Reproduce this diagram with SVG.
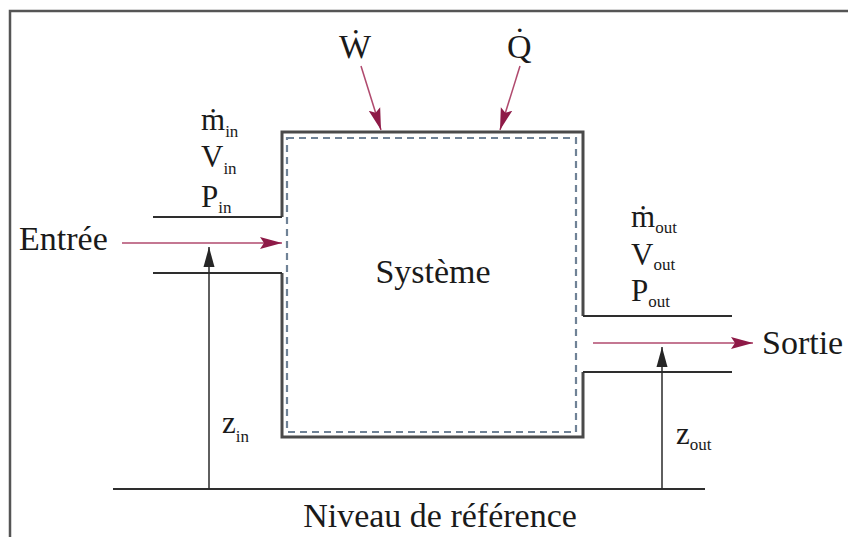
<svg xmlns="http://www.w3.org/2000/svg" width="848" height="537" viewBox="0 0 848 537">
<defs>
<style>
text{font-family:"Liberation Serif","Tinos","Noto Serif","FreeSerif","Nimbus Roman","Times","DejaVu Serif",serif;fill:#1a1a1a}
.big{font-size:34px}
.var{font-size:31px}
.sub{font-size:17px}
.wall{fill:none;stroke:#4a4a4a;stroke-width:3}
.pipe{fill:none;stroke:#2e2e2e;stroke-width:2}
.flow{stroke:#b04a6e;stroke-width:1.5;fill:none}
.z{stroke:#2a2a2a;stroke-width:1.5;fill:none}
</style>
<marker id="mflow" markerWidth="24" markerHeight="14" refX="22" refY="7" orient="auto" markerUnits="userSpaceOnUse">
<path d="M0,1 L22,7 L0,13 L4,7 Z" fill="#8e1a47"/>
</marker>
<marker id="mz" markerWidth="22" markerHeight="14" refX="20" refY="7" orient="auto" markerUnits="userSpaceOnUse">
<path d="M0,1.5 L20,7 L0,12.5 Z" fill="#262626"/>
</marker>
</defs>
<rect width="848" height="537" fill="#ffffff"/>
<g id="frame">
<path d="M10,537 V11 H848" fill="none" stroke="#555" stroke-width="2.5"/>
</g>
<g id="system">
<path class="wall" d="M282,217 V132 H583 V316"/>
<path class="wall" d="M282,273 V437 H583 V372"/>
<rect x="287" y="138" width="289" height="294" fill="none" stroke="#6f8296" stroke-width="2.2" stroke-dasharray="7,5"/>
<text class="big" x="433" y="283" text-anchor="middle">Système</text>
</g>
<g id="inlet">
<path class="pipe" d="M153,217 H282"/>
<path class="pipe" d="M153,273 H282"/>
<text class="big" x="19" y="250">Entrée</text>
<text class="var" x="201" y="130">ṁ<tspan class="sub" dy="7">in</tspan></text>
<text class="var" x="201" y="167">V<tspan class="sub" dy="7">in</tspan></text>
<text class="var" x="201" y="207">P<tspan class="sub" dy="6">in</tspan></text>
</g>
<g id="outlet">
<path class="pipe" d="M583,316 H732"/>
<path class="pipe" d="M583,372 H732"/>
<text class="big" x="762" y="354">Sortie</text>
<text class="var" x="631" y="227">ṁ<tspan class="sub" dy="6">out</tspan></text>
<text class="var" x="631" y="265">V<tspan class="sub" dy="5">out</tspan></text>
<text class="var" x="631" y="301">P<tspan class="sub" dy="6">out</tspan></text>
</g>
<g id="work">
<text class="big" x="339" y="58">Ẇ</text>
</g>
<g id="heat">
<text class="big" x="507" y="58">Q̇</text>
</g>
<g id="reference">
<path d="M113,489 H705" fill="none" stroke="#2e2e2e" stroke-width="2"/>
<text class="big" x="440" y="527" text-anchor="middle">Niveau de référence</text>
</g>
<g id="heights">
<text class="var" x="222" y="433">z<tspan class="sub" dy="9">in</tspan></text>
<text class="var" x="676" y="444">z<tspan class="sub" dy="6">out</tspan></text>
</g>
<g id="connectors">
<line class="flow" x1="122" y1="243" x2="282" y2="243" marker-end="url(#mflow)"/>
<line class="flow" x1="593" y1="343" x2="753" y2="343" marker-end="url(#mflow)"/>
<line class="flow" x1="361" y1="66" x2="381" y2="130" marker-end="url(#mflow)"/>
<line class="flow" x1="520" y1="66" x2="500" y2="130" marker-end="url(#mflow)"/>
<line class="z" x1="209" y1="489" x2="209" y2="247" marker-end="url(#mz)"/>
<line class="z" x1="662" y1="489" x2="662" y2="347" marker-end="url(#mz)"/>
</g>
</svg>
